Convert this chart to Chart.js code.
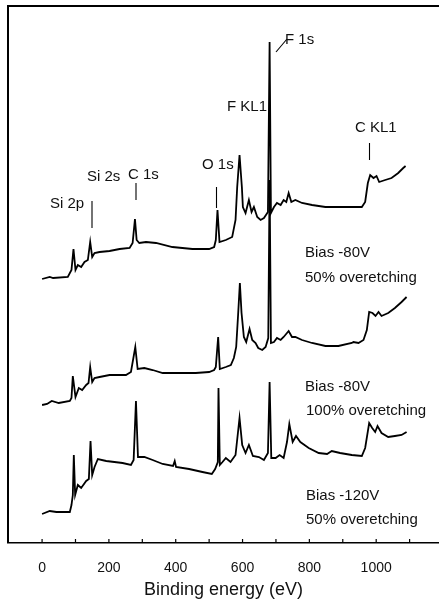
<!DOCTYPE html>
<html>
<head>
<meta charset="utf-8">
<title>XPS survey spectra</title>
<script src="https://cdn.jsdelivr.net/npm/chart.js"></script>
<style>
  html, body { margin: 0; padding: 0; background: #fff; }
  canvas { display: block; }
</style>
</head>
<body>
<canvas id="xps" width="439" height="607"></canvas>
<script>
// Binding energy (eV) and intensity (a.u.)

// Bias -80V, 50% overetching (top)
const topEnergy = [0, 23, 33, 77, 88, 94, 100, 107, 117, 127, 137, 144, 150, 157, 172, 202, 232, 262, 271, 278, 283, 291, 311, 341, 390, 450, 500, 515, 520, 525, 531, 550, 569, 579, 584, 591, 598, 601, 609, 619, 627, 634, 644, 654, 664, 676, 681, 685, 694, 703, 714, 723, 731, 738, 746, 758, 778, 808, 848, 887, 927, 957, 967, 975, 982, 992, 1001, 1009, 1027, 1046, 1066, 1081, 1088];
const topCounts = [264, 266, 265, 266, 273, 294, 273, 278, 276, 281, 283, 301, 286, 290, 291, 292, 294, 295, 300, 324, 303, 300, 301, 300, 296, 294, 294, 296, 303, 333, 301, 303, 306, 323, 356, 388, 356, 336, 330, 343, 331, 336, 326, 323, 325, 331, 501, 330, 336, 340, 338, 343, 341, 350, 341, 343, 340, 338, 336, 336, 336, 336, 341, 360, 368, 365, 367, 361, 363, 365, 370, 375, 377];

// Bias -80V, 100% overetching (middle)
const midEnergy = [0, 15, 29, 50, 83, 88, 92, 100, 110, 120, 132, 139, 144, 150, 157, 172, 202, 251, 266, 279, 286, 306, 331, 361, 410, 460, 500, 515, 520, 527, 532, 550, 565, 574, 581, 587, 592, 597, 604, 611, 621, 629, 639, 647, 659, 669, 677, 681, 685, 694, 703, 714, 723, 738, 748, 758, 778, 808, 848, 887, 927, 932, 947, 962, 972, 979, 989, 998, 1007, 1016, 1036, 1056, 1076, 1091];
const midCounts = [138, 139, 142, 140, 142, 145, 167, 146, 155, 153, 158, 160, 176, 161, 165, 166, 168, 168, 171, 196, 174, 175, 173, 170, 170, 170, 171, 173, 176, 206, 174, 176, 178, 185, 196, 230, 260, 230, 206, 201, 214, 203, 200, 195, 193, 196, 205, 363, 200, 201, 205, 203, 206, 212, 206, 206, 203, 200, 197, 197, 200, 201, 200, 203, 213, 231, 230, 227, 231, 227, 230, 235, 241, 246];

// Bias -120V, 50% overetching (bottom)
const botEnergy = [0, 23, 43, 83, 88, 92, 95, 99, 107, 117, 132, 140, 145, 150, 157, 167, 192, 241, 266, 274, 281, 287, 306, 331, 361, 392, 397, 401, 440, 480, 508, 518, 526, 528, 532, 540, 550, 564, 579, 591, 599, 609, 619, 631, 649, 664, 676, 681, 686, 699, 711, 723, 733, 740, 750, 760, 773, 798, 828, 853, 867, 892, 927, 957, 967, 979, 988, 997, 1004, 1016, 1036, 1056, 1076, 1091];
const botCounts = [29, 32, 31, 31, 38, 48, 88, 48, 58, 55, 62, 64, 102, 68, 76, 84, 82, 80, 78, 83, 142, 86, 86, 83, 79, 77, 82, 76, 74, 71, 69, 74, 81, 155, 78, 81, 85, 81, 88, 125, 98, 90, 98, 87, 86, 83, 90, 161, 85, 85, 88, 85, 101, 119, 101, 107, 101, 95, 90, 89, 92, 90, 88, 87, 95, 120, 115, 111, 117, 110, 106, 107, 108, 111];

// tick marks every 100 eV, labels every 200 eV
const xTickValues = [0, 100, 200, 300, 400, 500, 600, 700, 800, 900, 1000, 1100];
const xTicksLabelled = [0, 200, 400, 600, 800, 1000];

const FONT = "'Liberation Sans', Arial, Helvetica, sans-serif";

function toPoints(xs, ys) {
  return xs.map((x, i) => ({ x, y: ys[i] }));
}

function spectrum(label, xs, ys) {
  return {
    label,
    data: toPoints(xs, ys),
    borderColor: "#000",
    borderWidth: 1.8,
    pointRadius: 0,
    pointHoverRadius: 0,
    tension: 0,
    fill: false
  };
}

// Frame, inward ticks and the peak / sample labels
const decorations = {
  id: "decorations",
  afterDraw(chart) {
    const { ctx, chartArea: a, scales } = chart;
    const x = scales.x;
    ctx.save();
    ctx.strokeStyle = "#000";
    ctx.fillStyle = "#111";

    // left and top frame lines
    ctx.lineWidth = 2;
    ctx.beginPath();
    ctx.moveTo(a.left, a.bottom);
    ctx.lineTo(a.left, a.top);
    ctx.lineTo(a.right, a.top);
    ctx.stroke();

    // inward tick marks
    ctx.lineWidth = 1.2;
    x.ticks.forEach(t => {
      const px = x.getPixelForValue(t.value);
      ctx.beginPath();
      ctx.moveTo(px, a.bottom);
      ctx.lineTo(px, a.bottom - 4);
      ctx.stroke();
    });

    // peak markers
    const marks = [
      [92, 201, 92, 228],
      [136, 183, 136, 200],
      [216.5, 187, 216.5, 208],
      [369.5, 143, 369.5, 160],
      [276, 52, 287, 39]
    ];
    ctx.lineWidth = 1.1;
    marks.forEach(m => {
      ctx.beginPath();
      ctx.moveTo(m[0], m[1]);
      ctx.lineTo(m[2], m[3]);
      ctx.stroke();
    });

    ctx.font = "15px " + FONT;
    ctx.textBaseline = "middle";
    ctx.textAlign = "left";
    const texts = [
      ["Si 2p", 50, 204],
      ["Si 2s", 87, 177],
      ["C 1s", 128, 175],
      ["O 1s", 202, 165],
      ["F KL1", 227, 107],
      ["F 1s", 285, 40],
      ["C KL1", 355, 128],
      ["Bias -80V", 305, 253],
      ["50% overetching", 305, 278],
      ["Bias -80V", 305, 387],
      ["100% overetching", 306, 411],
      ["Bias -120V", 306, 496],
      ["50% overetching", 306, 520]
    ];
    texts.forEach(t => ctx.fillText(t[0], t[1], t[2]));
    ctx.restore();
  }
};

new Chart(document.getElementById("xps"), {
  type: "line",
  data: {
    datasets: [
      spectrum("Bias -80V, 50% overetching", topEnergy, topCounts),
      spectrum("Bias -80V, 100% overetching", midEnergy, midCounts),
      spectrum("Bias -120V, 50% overetching", botEnergy, botCounts)
    ]
  },
  options: {
    responsive: false,
    animation: false,
    events: [],
    layout: { autoPadding: false, padding: { left: 8, top: 6, right: 0, bottom: 0 } },
    plugins: {
      legend: { display: false },
      tooltip: { enabled: false }
    },
    scales: {
      x: {
        type: "linear",
        min: -102,
        max: 1188,
        grid: { display: false, drawTicks: false },
        border: { display: true, color: "#000", width: 1.6 },
        afterBuildTicks: s => { s.ticks = xTickValues.map(v => ({ value: v })); },
        ticks: {
          autoSkip: false,
          maxRotation: 0,
          padding: 17,
          color: "#111",
          font: { family: FONT, size: 14 },
          callback: v => (xTicksLabelled.includes(v) ? String(v) : "")
        },
        title: {
          display: true,
          text: "Binding energy (eV)",
          color: "#111",
          font: { family: FONT, size: 18 },
          padding: { top: 4, bottom: 6 }
        },
        afterFit: s => { s.height = 64; }
      },
      y: {
        type: "linear",
        min: 0,
        max: 537,
        grid: { display: false, drawTicks: false },
        border: { display: false },
        ticks: { display: false },
        afterFit: s => { s.width = 0; }
      }
    }
  },
  plugins: [decorations]
});
</script>
</body>
</html>
